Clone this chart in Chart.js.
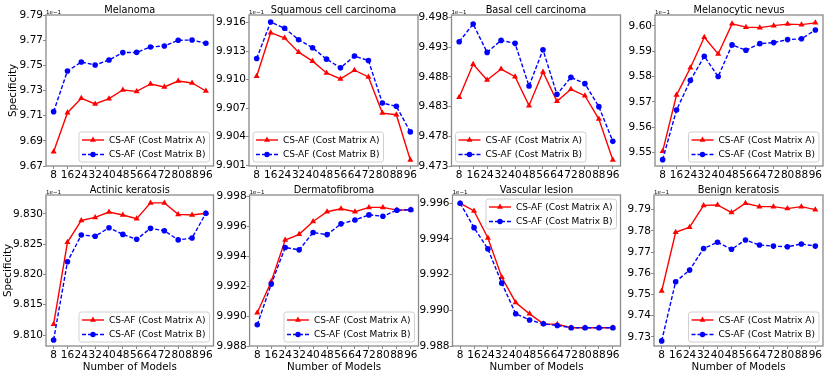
<!DOCTYPE html>
<html>
<head>
<meta charset="utf-8">
<script src="https://cdn.jsdelivr.net/npm/chart.js@4.4.1/dist/chart.umd.min.js"></script>
<style>
  html, body { margin: 0; padding: 0; background: #fff; }
  #wrap { position: relative; width: 831px; height: 373px; overflow: hidden; }
  canvas { position: absolute; left: 0; top: 0; }
</style>
</head>
<body>
<div id="wrap"></div>
<script>
// ---------- data ----------
const xValues = [8, 16, 24, 32, 40, 48, 56, 64, 72, 80, 88, 96];
const seriesLabels = ['CS-AF (Cost Matrix A)', 'CS-AF (Cost Matrix B)'];
const titles = ['Melanoma', 'Squamous cell carcinoma', 'Basal cell carcinoma', 'Melanocytic nevus',
                'Actinic keratosis', 'Dermatofibroma', 'Vascular lesion', 'Benign keratosis'];

const melanomaA = [9.6814, 9.7124, 9.7238, 9.7193, 9.7235, 9.7304, 9.7293, 9.7352, 9.7328, 9.7375, 9.7360, 9.7296];
const melanomaB = [9.7132, 9.7455, 9.7526, 9.7503, 9.7542, 9.7601, 9.7603, 9.7646, 9.7654, 9.7699, 9.7701, 9.7675];
const squamousA = [9.91035, 9.91494, 9.91438, 9.91289, 9.91194, 9.91070, 9.91007, 9.91099, 9.91028, 9.90647, 9.90630, 9.90153];
const squamousB = [9.91222, 9.91607, 9.91540, 9.91420, 9.91335, 9.91215, 9.91124, 9.91247, 9.91201, 9.90753, 9.90718, 9.90449];
const basalA = [9.48455, 9.49010, 9.48746, 9.48931, 9.48802, 9.48315, 9.48880, 9.48388, 9.48590, 9.48483, 9.48090, 9.47401];
const basalB = [9.49391, 9.49688, 9.49211, 9.49413, 9.49363, 9.48645, 9.49256, 9.48505, 9.48791, 9.48685, 9.48298, 9.47715];
const nevusA = [9.5505, 9.5727, 9.5835, 9.5955, 9.5889, 9.6008, 9.5995, 9.5993, 9.6001, 9.6007, 9.6005, 9.6012];
const nevusB = [9.5472, 9.5668, 9.5785, 9.5880, 9.5800, 9.5925, 9.5904, 9.5930, 9.5934, 9.5946, 9.5949, 9.5984];
const actinicA = [9.8118, 9.8253, 9.8289, 9.8294, 9.8303, 9.8298, 9.8292, 9.8318, 9.8318, 9.8299, 9.8298, 9.8301];
const actinicB = [9.8092, 9.8221, 9.8265, 9.8263, 9.8277, 9.8266, 9.8258, 9.8276, 9.8272, 9.8257, 9.8260, 9.8301];
const dermatoA = [9.99022, 9.99231, 9.99509, 9.99547, 9.99633, 9.99698, 9.99718, 9.99698, 9.99727, 9.99727, 9.99709, 9.99711];
const dermatoB = [9.98942, 9.99214, 9.99459, 9.99443, 9.99559, 9.99545, 9.99617, 9.99643, 9.99677, 9.99668, 9.99708, 9.99711];
const vascularA = [9.99600, 9.99557, 9.99405, 9.99185, 9.99044, 9.98980, 9.98924, 9.98922, 9.98902, 9.98902, 9.98902, 9.98902];
const vascularB = [9.99600, 9.99463, 9.99344, 9.99152, 9.98981, 9.98946, 9.98924, 9.98915, 9.98902, 9.98902, 9.98902, 9.98902];
const benignA = [9.7516, 9.7793, 9.7817, 9.7920, 9.7922, 9.7886, 9.7930, 9.7914, 9.7914, 9.7905, 9.7914, 9.7900];
const benignB = [9.7281, 9.7560, 9.7615, 9.7717, 9.7746, 9.7713, 9.7757, 9.7733, 9.7728, 9.7725, 9.7738, 9.7728];

const melanomaTicks = [9.67, 9.69, 9.71, 9.73, 9.75, 9.77, 9.79];
const squamousTicks = [9.901, 9.904, 9.907, 9.910, 9.913, 9.916];
const basalTicks = [9.473, 9.478, 9.483, 9.488, 9.493, 9.498];
const nevusTicks = [9.55, 9.56, 9.57, 9.58, 9.59, 9.60];
const actinicTicks = [9.810, 9.815, 9.820, 9.825, 9.830];
const dermatoTicks = [9.988, 9.990, 9.992, 9.994, 9.996, 9.998];
const vascularTicks = [9.988, 9.990, 9.992, 9.994, 9.996];
const benignTicks = [9.73, 9.74, 9.75, 9.76, 9.77, 9.78, 9.79];

const seriesA = [melanomaA, squamousA, basalA, nevusA, actinicA, dermatoA, vascularA, benignA];
const seriesB = [melanomaB, squamousB, basalB, nevusB, actinicB, dermatoB, vascularB, benignB];
const yTickLists = [melanomaTicks, squamousTicks, basalTicks, nevusTicks, actinicTicks, dermatoTicks, vascularTicks, benignTicks];
const yDecimals = [2, 3, 3, 2, 3, 3, 3, 2];
const yLimits = [[9.67, 9.79], [9.9009, 9.9168], [9.473, 9.4984], [9.5447, 9.6043],
                 [9.8082, 9.8331], [9.988, 9.9981], [9.988, 9.99646], [9.7257, 9.7969]];

// ---------- layout (pixels) ----------
const W = 831, H = 373;
const plotLeft = [46, 249, 451.5, 655, 46, 249.6, 452.5, 654];
const plotRight = [213.5, 418, 620.5, 823, 213.5, 418.5, 620.5, 823];
const rowTop = [15, 195], rowBottom = [166, 346];
const legendLoc = ['lr', 'll', 'll', 'lr', 'lr', 'lr', 'ur', 'lr'];
const YW = 40, XH = 20;
const FONT = '"DejaVu Sans", "Liberation Sans", sans-serif';
const RED = '#ff0000', BLUE = '#0000ff';

function drawTriangle(ctx, x, y, r) {
  ctx.beginPath();
  ctx.moveTo(x, y - r);
  ctx.lineTo(x + r * 0.866, y + r * 0.5);
  ctx.lineTo(x - r * 0.866, y + r * 0.5);
  ctx.closePath();
  ctx.fill();
}

function makeDecor(i) {
  return {
    id: 'decor' + i,
    afterDraw(chart) {
      const ctx = chart.ctx, a = chart.chartArea;
      ctx.save();
      // axes frame
      ctx.strokeStyle = '#8a8a8a';
      ctx.lineWidth = 1.3;
      ctx.strokeRect(a.left, a.top, a.right - a.left, a.bottom - a.top);
      // title
      ctx.fillStyle = '#000';
      ctx.font = '9.8px ' + FONT;
      ctx.textAlign = 'center';
      ctx.textBaseline = 'alphabetic';
      ctx.fillText(titles[i], (a.left + a.right) / 2, a.top - 2);
      // offset text
      ctx.font = '5.5px ' + FONT;
      ctx.textAlign = 'left';
      ctx.fillText('1e\u22121', a.left, a.top - 1.5);
      // y label
      if (i === 0 || i === 4) {
        ctx.save();
        ctx.font = '10.3px ' + FONT;
        ctx.textAlign = 'center';
        ctx.textBaseline = 'middle';
        ctx.translate(i === 0 ? 13.5 : 8.3, (a.top + a.bottom) / 2);
        ctx.rotate(-Math.PI / 2);
        ctx.fillText('Specificity', 0, 0);
        ctx.restore();
      }
      // x label
      if (i >= 4) {
        ctx.font = '10.3px ' + FONT;
        ctx.textAlign = 'center';
        ctx.textBaseline = 'alphabetic';
        ctx.fillText('Number of Models', (a.left + a.right) / 2, 369.5);
      }
      // legend
      ctx.font = '9px ' + FONT;
      const tw = Math.max(ctx.measureText(seriesLabels[0]).width, ctx.measureText(seriesLabels[1]).width);
      const bw = 30 + tw + 4, bh = 30, m = 4;
      const loc = legendLoc[i];
      const bx = loc === 'll' ? a.left + m : a.right - m - bw;
      const by = loc === 'ur' ? a.top + m : a.bottom - m - bh;
      ctx.beginPath();
      if (ctx.roundRect) ctx.roundRect(bx, by, bw, bh, 2.5); else ctx.rect(bx, by, bw, bh);
      ctx.fillStyle = 'rgba(255,255,255,0.8)';
      ctx.fill();
      ctx.strokeStyle = '#d0d0d0';
      ctx.lineWidth = 1;
      ctx.stroke();
      const rows = [by + 8, by + 22.5];
      // row A
      ctx.strokeStyle = RED; ctx.fillStyle = RED; ctx.lineWidth = 1.4; ctx.setLineDash([]);
      ctx.beginPath(); ctx.moveTo(bx + 3, rows[0]); ctx.lineTo(bx + 25, rows[0]); ctx.stroke();
      drawTriangle(ctx, bx + 14, rows[0], 3.4);
      // row B
      ctx.strokeStyle = BLUE; ctx.fillStyle = BLUE; ctx.setLineDash([4, 2]);
      ctx.beginPath(); ctx.moveTo(bx + 3, rows[1]); ctx.lineTo(bx + 25, rows[1]); ctx.stroke();
      ctx.setLineDash([]);
      ctx.beginPath(); ctx.arc(bx + 14, rows[1], 2.7, 0, Math.PI * 2); ctx.fill();
      ctx.fillStyle = '#000';
      ctx.textAlign = 'left';
      ctx.textBaseline = 'middle';
      ctx.fillText(seriesLabels[0], bx + 30, rows[0] + 0.5);
      ctx.fillText(seriesLabels[1], bx + 30, rows[1] + 0.5);
      ctx.restore();
    }
  };
}

const wrap = document.getElementById('wrap');
for (let i = 0; i < 8; i++) {
  const row = i < 4 ? 0 : 1;
  const cv = document.createElement('canvas');
  cv.width = W; cv.height = H;
  cv.style.width = W + 'px'; cv.style.height = H + 'px';
  wrap.appendChild(cv);
  const ticks = yTickLists[i], dec = yDecimals[i];
  new Chart(cv, {
    type: 'line',
    data: {
      datasets: [
        {
          label: seriesLabels[0],
          data: xValues.map((x, k) => ({ x: x, y: seriesA[i][k] })),
          borderColor: RED, backgroundColor: RED,
          borderWidth: 1.4, pointStyle: 'triangle', pointRadius: 3.5,
          pointBorderWidth: 0, pointBackgroundColor: RED, tension: 0, order: 1
        },
        {
          label: seriesLabels[1],
          data: xValues.map((x, k) => ({ x: x, y: seriesB[i][k] })),
          borderColor: BLUE, backgroundColor: BLUE,
          borderWidth: 1.4, borderDash: [4, 2], pointStyle: 'circle', pointRadius: 2.8,
          pointBorderWidth: 0, pointBackgroundColor: BLUE, tension: 0, order: 0
        }
      ]
    },
    options: {
      responsive: false,
      animation: false,
      events: [],
      layout: {
        padding: {
          left: plotLeft[i] - YW,
          right: W - plotRight[i],
          top: rowTop[row],
          bottom: H - rowBottom[row] - XH
        }
      },
      plugins: { legend: { display: false }, title: { display: false }, tooltip: { enabled: false } },
      scales: {
        x: {
          type: 'linear', min: 3.6, max: 100.4,
          afterBuildTicks: s => { s.ticks = xValues.map(v => ({ value: v })); },
          afterFit: s => { s.height = XH; },
          grid: { display: true, drawOnChartArea: false, drawTicks: true, tickLength: 3, color: '#8a8a8a' },
          border: { display: false },
          ticks: {
            autoSkip: false, maxRotation: 0, minRotation: 0, padding: 0,
            color: '#000', font: { family: FONT, size: 10.5 },
            callback: v => String(v)
          }
        },
        y: {
          type: 'linear', min: yLimits[i][0], max: yLimits[i][1],
          afterBuildTicks: s => { s.ticks = ticks.map(v => ({ value: v })); },
          afterFit: s => { s.width = YW; },
          grid: { display: true, drawOnChartArea: false, drawTicks: true, tickLength: 3, color: '#8a8a8a' },
          border: { display: false },
          ticks: {
            autoSkip: false, padding: 0,
            color: '#000', font: { family: FONT, size: 10.5 },
            callback: v => Number(v).toFixed(dec)
          }
        }
      }
    },
    plugins: [makeDecor(i)]
  });
}
</script>
</body>
</html>
